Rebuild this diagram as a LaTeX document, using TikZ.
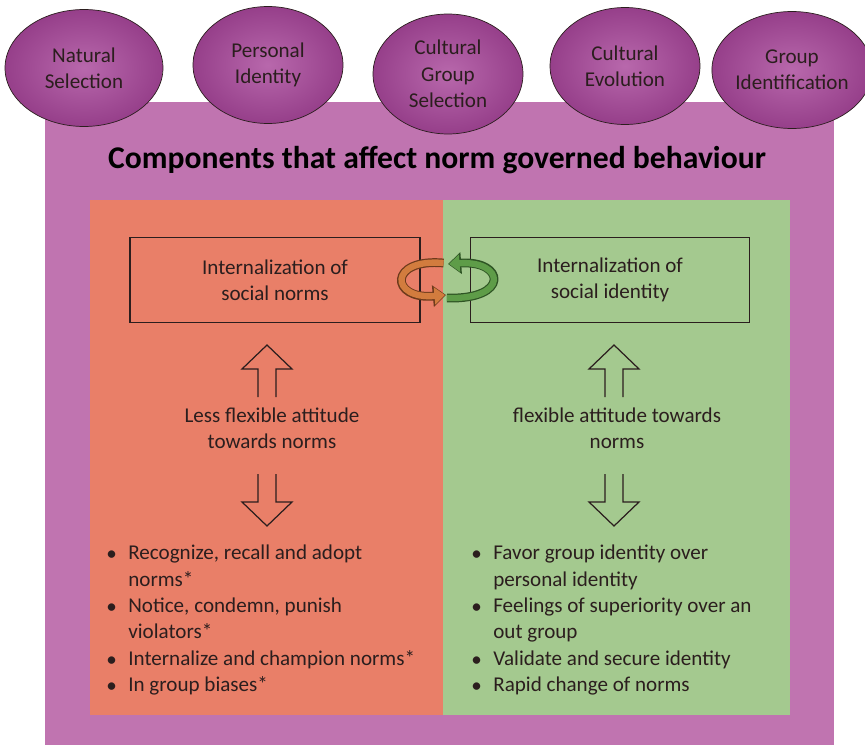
\documentclass[tikz,border=0pt]{standalone}
\usepackage{fontspec}
\setmainfont{Carlito}
\usetikzlibrary{shapes.geometric,arrows.meta,positioning}

\definecolor{bgpurple}{HTML}{C074B0}
\definecolor{ellinner}{HTML}{B868AC}
\definecolor{ellouter}{HTML}{963F8A}
\definecolor{normsred}{HTML}{E97F68}
\definecolor{identgreen}{HTML}{A4C98F}
\definecolor{inkdark}{HTML}{2B1E1E}
\definecolor{bandorange}{HTML}{D27C3E}
\definecolor{bandorangedk}{HTML}{6E3A1C}
\definecolor{bandgreen}{HTML}{5E9C48}
\definecolor{bandgreendk}{HTML}{2E5424}

\newcommand{\bigdot}{\raisebox{-0.1ex}{\large\textbullet}}

\tikzset{
  source/.style={ellipse, draw=inkdark, thin, inner color=ellinner, outer color=ellouter,
    minimum width=3cm, minimum height=2.34cm, inner sep=0pt, align=center,
    font=\fontsize{12}{15}\selectfont, text=inkdark},
  stage/.style={draw=inkdark, line width=0.7pt, minimum height=1.7cm, align=center,
    font=\fontsize{12}{15}\selectfont, text=inkdark},
  attitude/.style={align=center, font=\fontsize{12}{15}\selectfont, text=inkdark},
  effects/.style={anchor=north west, inner sep=0pt, font=\fontsize{12}{15}\selectfont, text=inkdark},
  blockarrow/.pic={
    \draw [inkdark, line width=0.7pt] (0,0) ++(-9,-52) -- ++(0,28) -- ++(-16,0) -- (0,0)
      -- ++(25,-24) -- ++(-16,0) -- ++(0,-28);
  },
}

\begin{document}
\begin{tikzpicture}[x=0.02cm, y=0.02cm]
    \useasboundingbox (0,0) rectangle (865,745);
    % panels
    \fill [bgpurple] (45,0) rectangle (834,643);
    \fill [normsred] (90,30) rectangle (443,545);
    \fill [identgreen] (443,30) rectangle (790,545);

    \node [source, minimum width=3.16cm] (natsel) at (84,677) {Natural\\Selection};
    \node [source] (persid) at (268,680) {Personal\\Identity};
    \node [source, minimum height=2.4cm] (cgsel) at (448,671) {Cultural\\Group\\Selection};
    \node [source] (culevo) at (625,679) {Cultural\\Evolution};
    \node [source, minimum width=2.85cm] (grpid) at (792,675) {Group\\Identification};

    \node [font=\bfseries\fontsize{18}{22}\selectfont, text=black] (title) at (437,585)
      {Components that affect norm governed behaviour};

    \node [stage, minimum width=5.8cm] (normsbox) at (275,465) {Internalization of\\social norms};
    \node [stage, minimum width=5.58cm] (identbox) at (610,465) {Internalization of\\social identity};

    \node [attitude] (lessflex) at (272,317) {Less flexible attitude\\towards norms};
    \node [attitude] (flex) at (617,317) {flexible attitude towards\\norms};

    \path (267,400) pic {blockarrow};
    \path (267,219) pic [rotate=180] {blockarrow};
    \path (614,400) pic {blockarrow};
    \path (614,219) pic [rotate=180] {blockarrow};

    % circular arrows between the boxes
    \draw [bandorangedk, line width=5pt, -{Triangle[length=7.5pt,width=12pt]}]
      (normsbox.east) ++(23,17) .. controls (388,487) and (390,445) .. (446,450);
    \draw [bandorange, line width=3.6pt, -{Triangle[length=6pt,width=9.5pt]}]
      (normsbox.east) ++(23,17) .. controls (388,487) and (390,445) .. (445,450);
    \draw [bandgreendk, line width=5pt, -{Triangle[length=7.5pt,width=12pt]}]
      (identbox.west) ++(-23,-18) .. controls (510,445) and (505,485) .. (448,481);
    \draw [bandgreen, line width=3.6pt, -{Triangle[length=6pt,width=9.5pt]}]
      (identbox.west) ++(-23,-18) .. controls (510,445) and (505,485) .. (449,481);

    \node [effects] (normsfx) at (106,204) {\begin{tabular}{@{}p{0.44cm}@{}l@{}}
      \bigdot & Recognize, recall and adopt\\
       & norms*\\
      \bigdot & Notice, condemn, punish\\
       & violators*\\
      \bigdot & Internalize and champion norms*\\
      \bigdot & In group biases*
    \end{tabular}};
    \node [effects] (identfx) at (471,204) {\begin{tabular}{@{}p{0.44cm}@{}l@{}}
      \bigdot & Favor group identity over\\
       & personal identity\\
      \bigdot & Feelings of superiority over an\\
       & out group\\
      \bigdot & Validate and secure identity\\
      \bigdot & Rapid change of norms
    \end{tabular}};
\end{tikzpicture}
\end{document}
